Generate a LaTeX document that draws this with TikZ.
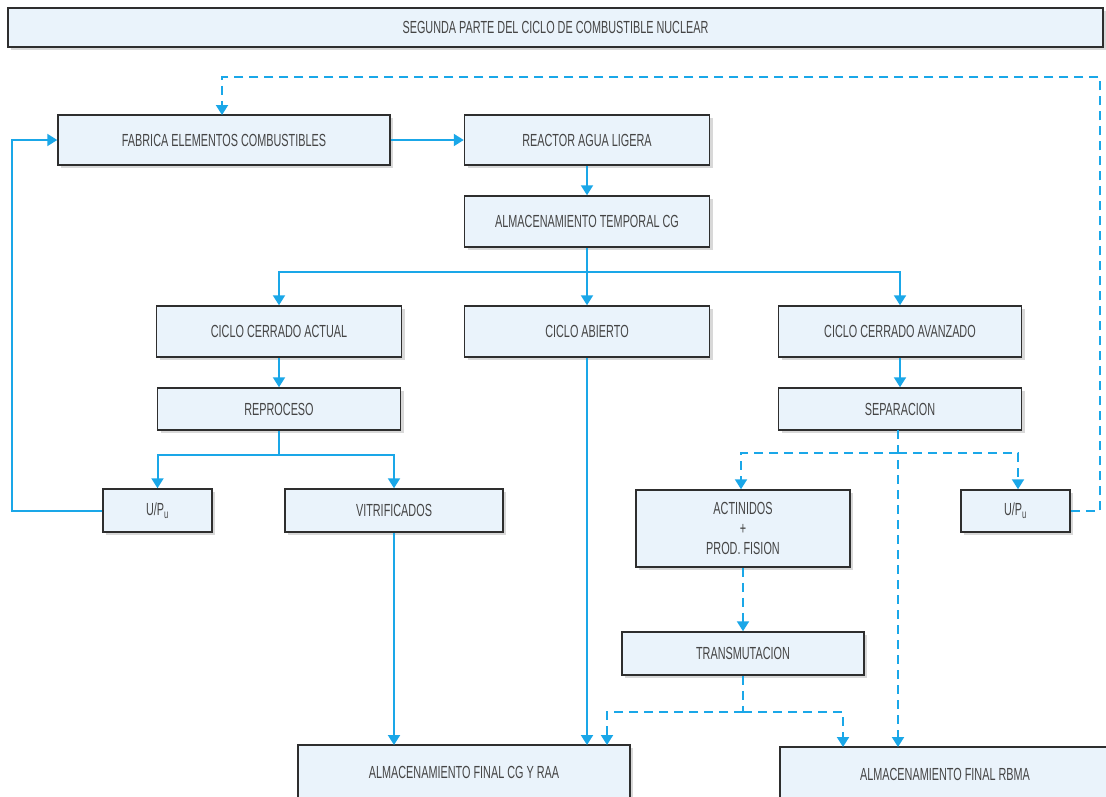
\documentclass[tikz,border=0pt]{standalone}
\usepackage{fontspec}
\setmainfont{Liberation Sans}[FakeStretch=0.62]
\usetikzlibrary{shadows,arrows.meta,calc}
\definecolor{boxfill}{HTML}{EAF3FB}
\definecolor{boxline}{HTML}{2E2E2E}
\definecolor{flow}{HTML}{1AA7E8}
\definecolor{txt}{HTML}{454545}
\tikzset{
  box/.style={draw=boxline, line width=1.5pt, fill=boxfill, inner sep=0pt,
    text=txt, font=\fontsize{17.5}{21}\selectfont, align=center,
    drop shadow={shadow xshift=3pt, shadow yshift=-3pt, fill=black!30, opacity=0.5}},
  flowline/.style={draw=flow, line width=2pt},
  arr/.style={flowline, -{Triangle[width=12pt,length=10pt]}},
  dsh/.style={dash pattern=on 9pt off 6pt},
}
\begin{document}
\begin{tikzpicture}[x=1pt,y=-1pt]
\clip (0,0) rectangle (1106,796);
\fill[white] (0,0) rectangle (1106,796);

% boxes
\node[box, minimum width=1095pt, minimum height=39pt] (title) at (555.5,27.5) {SEGUNDA PARTE DEL CICLO DE COMBUSTIBLE NUCLEAR};
\node[box, minimum width=332pt, minimum height=50pt] (fab) at (224,140) {FABRICA ELEMENTOS COMBUSTIBLES};
\node[box, minimum width=245pt, minimum height=50pt] (reac) at (587,140) {REACTOR AGUA LIGERA};
\node[box, minimum width=245pt, minimum height=51pt] (temp) at (587,221.5) {ALMACENAMIENTO TEMPORAL CG};
\node[box, minimum width=245pt, minimum height=51pt] (cca) at (279,331.5) {CICLO CERRADO ACTUAL};
\node[box, minimum width=245pt, minimum height=51pt] (abi) at (587,331.5) {CICLO ABIERTO};
\node[box, minimum width=243pt, minimum height=51pt] (ccav) at (900,331.5) {CICLO CERRADO AVANZADO};
\node[box, minimum width=243pt, minimum height=42pt] (repro) at (279,409) {REPROCESO};
\node[box, minimum width=243pt, minimum height=42pt] (sep) at (900,409) {SEPARACION};
\node[box, minimum width=109pt, minimum height=43pt] (upl) at (157.5,510.5) {U/P\textsubscript{u}};
\node[box, minimum width=218pt, minimum height=43pt] (vit) at (394,510.5) {VITRIFICADOS};
\node[box, minimum width=214pt, minimum height=77pt, font=\fontsize{17.5}{20}\selectfont] (act) at (743,528.5) {ACTINIDOS\\+\\PROD. FISION};
\node[box, minimum width=109pt, minimum height=42pt] (upr) at (1015.5,511) {U/P\textsubscript{u}};
\node[box, minimum width=242pt, minimum height=43pt] (trans) at (743,653.5) {TRANSMUTACION};
\node[box, minimum width=332pt, minimum height=54pt] (fcg) at (464,772) {ALMACENAMIENTO FINAL CG Y RAA};
\node[box, minimum width=330pt, minimum height=54pt] (rbma) at (945,774) {ALMACENAMIENTO FINAL RBMA};

% turning points of the connectors
\coordinate (split)  at (587,272);
\coordinate (rsplit) at (279,455);
\coordinate (lbend)  at (12,510.5);
\coordinate (ssrc)   at (898,430);
\coordinate (ssplit) at (898,453);
\coordinate (sact)   at (741,453);
\coordinate (supr)   at (1018,453);
\coordinate (srb)    at (898,747);
\coordinate (rb1)    at (1100,511);
\coordinate (rb2)    at (1100,77);
\coordinate (rb3)    at (222,77);
\coordinate (rb4)    at (222,115);
\coordinate (tsplit) at (743,712);
\coordinate (tl)     at (607,712);
\coordinate (tr)     at (843,712);
\coordinate (tlend)  at (607,745);
\coordinate (trend)  at (843,747);
\coordinate (aend)   at (587,745);
\coordinate (vend)   at (394,745);

% solid flows
\draw[arr] (fab.east) -- (reac.west);
\draw[arr] (reac.south) -- (temp.north);
\draw[flowline] (temp.south) -- (split);
\draw[arr] (split) -| (cca.north);
\draw[arr] (split) -| (ccav.north);
\draw[arr] (split) -- (abi.north);
\draw[arr] (cca.south) -- (repro.north);
\draw[flowline] (repro.south) -- (rsplit);
\draw[arr] (rsplit) -| (upl.north);
\draw[arr] (rsplit) -| (vit.north);
\draw[arr] (upl.west) -- (lbend) |- (fab.west);
\draw[arr] (ccav.south) -- (sep.north);
\draw[arr] (abi.south) -- (aend);
\draw[arr] (vit.south) -- (vend);

% dashed flows
\draw[flowline, dsh] (ssrc) -- (ssplit);
\draw[arr, dsh] (ssplit) -- (sact) -- (sact |- act.north);
\draw[arr, dsh] (ssplit) -- (supr) -- (supr |- upr.north);
\draw[arr, dsh] (ssrc) -- (srb);
\draw[arr, dsh] (upr.east) -- (rb1) -- (rb2) -- (rb3) -- (rb4);
\draw[arr, dsh] (act.south) -- (trans.north);
\draw[flowline, dsh] (trans.south) -- (tsplit);
\draw[arr, dsh] (tsplit) -- (tl) -- (tlend);
\draw[arr, dsh] (tsplit) -- (tr) -- (trend);
\end{tikzpicture}
\end{document}
